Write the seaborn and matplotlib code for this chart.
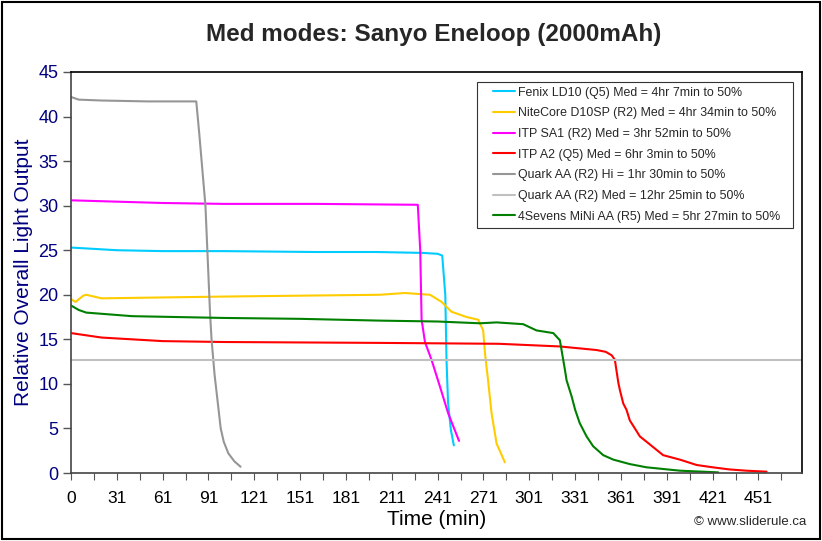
import matplotlib
matplotlib.use("Agg")
import matplotlib.pyplot as plt
import seaborn as sns
import pandas as pd
from matplotlib.lines import Line2D
from matplotlib.patches import Rectangle
from matplotlib import font_manager

# ---------------- data ----------------
fenix_x = [0, 10, 30, 60, 100, 160, 200, 230, 240, 243, 245, 245.8, 246.8, 248.7, 250.6]
fenix_y = [25.3, 25.2, 25.0, 24.9, 24.9, 24.8, 24.8, 24.7, 24.6, 24.4, 20.0, 12.7, 7.9, 4.8, 3.1]

nite_x = [0, 3, 8, 10, 20, 60, 100, 150, 202, 218.6, 235, 242.6, 249, 259, 266.6, 269.8,
          271, 273, 275.3, 278.6, 284]
nite_y = [19.5, 19.2, 19.9, 20.0, 19.6, 19.7, 19.8, 19.9, 20.0, 20.2, 20.0, 19.2, 18.1, 17.5,
          17.2, 16.0, 13.4, 10.4, 6.7, 3.3, 1.2]

sa1_x = [0, 20, 60, 100, 160, 227, 228.6, 229.5, 231.7, 236, 241.5, 246.9, 254]
sa1_y = [30.6, 30.5, 30.3, 30.2, 30.2, 30.1, 25.0, 17.2, 14.7, 12.7, 9.7, 6.7, 3.6]

a2_x = [0, 20, 60, 100, 202, 280, 320, 344, 350, 354, 356, 358.3, 359.3, 361.5, 363.6, 365.8,
        372.4, 376.8, 387.6, 398.6, 409.5, 420, 431, 442, 455.3]
a2_y = [15.7, 15.2, 14.8, 14.7, 14.6, 14.5, 14.2, 13.8, 13.6, 13.2, 12.7, 10.1, 9.3, 7.8, 7.1,
        5.9, 4.1, 3.5, 2.0, 1.5, 0.9, 0.64, 0.4, 0.26, 0.15]

quark_hi_x = [0, 5, 20, 50, 82, 84, 86, 88, 89, 90, 91, 92, 94, 96, 98, 100, 103, 107, 111]
quark_hi_y = [42.2, 41.9, 41.8, 41.7, 41.7, 38.0, 34.0, 30.0, 26.0, 22.0, 18.0, 15.0, 11.0,
              8.0, 5.0, 3.5, 2.2, 1.3, 0.7]

quark_med_x = [0, 100, 200, 300, 400, 478]
quark_med_y = [12.7, 12.7, 12.7, 12.7, 12.7, 12.7]

mini_x = [0, 5, 10, 40, 100, 150, 202, 240, 267.7, 278.6, 296, 304.7, 315.7, 320, 323.3,
          324.4, 327.7, 330, 333, 337.5, 341.8, 348.4, 355, 365.8, 376.7, 387.6, 398.6, 423.6]
mini_y = [18.8, 18.3, 18.0, 17.6, 17.4, 17.3, 17.1, 17.0, 16.8, 16.9, 16.7, 16.0, 15.7, 14.9,
          11.6, 10.4, 8.6, 7.1, 5.6, 4.1, 3.0, 2.0, 1.5, 1.0, 0.64, 0.45, 0.26, 0.07]

labels = [
    "Fenix LD10 (Q5) Med = 4hr 7min to 50%",
    "NiteCore D10SP (R2) Med = 4hr 34min to 50%",
    "ITP SA1 (R2) Med = 3hr 52min to 50%",
    "ITP A2 (Q5) Med = 6hr 3min to 50%",
    "Quark AA (R2) Hi = 1hr 30min to 50%",
    "Quark AA (R2) Med = 12hr 25min to 50%",
    "4Sevens MiNi AA (R5) Med = 5hr 27min to 50%",
]
colors = ["#00CCFF", "#FFCC00", "#FF00FF", "#FF0000", "#969696", "#C0C0C0", "#008000"]

xtick_labels = ["0", "31", "61", "91", "121", "151", "181", "211", "241", "271", "301",
                "331", "361", "391", "421", "451"]

# ---------------- build long-form table ----------------
series = [(fenix_x, fenix_y), (nite_x, nite_y), (sa1_x, sa1_y), (a2_x, a2_y),
          (quark_hi_x, quark_hi_y), (quark_med_x, quark_med_y), (mini_x, mini_y)]
frames = []
for lab, (xs, ys) in zip(labels, series):
    frames.append(pd.DataFrame({"Time": xs, "Output": ys, "Light": lab}))
df = pd.concat(frames, ignore_index=True)

# ---------------- plot ----------------
sns.set_theme(style="white")
plt.rcParams["font.family"] = ["Liberation Sans", "DejaVu Sans"]

installed = {f.name for f in font_manager.fontManager.ttflist}
narrow = "Liberation Sans Narrow" if "Liberation Sans Narrow" in installed else "Liberation Sans"

W, H = 822, 541
fig = plt.figure(figsize=(W / 100, H / 100), dpi=100)
L, R, T, B = 71, 802, 72, 473
ax = fig.add_axes([L / W, (H - B) / H, (R - L) / W, (B - T) / H])

sns.lineplot(data=df, x="Time", y="Output", hue="Light", hue_order=labels,
             palette=dict(zip(labels, colors)), estimator=None, sort=False,
             linewidth=1.5, legend=False, ax=ax)

ax.set_xlim(0, 478.5)
ax.set_ylim(0, 45)
ax.set_yticks(range(0, 46, 5))
ax.tick_params(axis="y", labelcolor="#000080", labelsize=13, length=6, width=1,
               direction="out", left=True, color="#555555", pad=3)
ticks = list(range(0, 466, 15))
ax.set_xticks(ticks)
ax.set_xticklabels([xtick_labels[i // 2] if i % 2 == 0 else "" for i in range(len(ticks))])
ax.tick_params(axis="x", labelcolor="black", labelsize=12.5, length=5, width=0.8,
               direction="out", bottom=True, pad=8, color="#555555")
for lab in ax.get_xticklabels():
    lab.set_family([narrow, "DejaVu Sans"])

ax.set_xlabel("Time (min)", fontsize=15, color="black", labelpad=3)
ax.set_ylabel("Relative Overall Light Output", fontsize=15, color="#000080", labelpad=4)

for sp in ax.spines.values():
    sp.set_visible(True)
    sp.set_color("black")
    sp.set_linewidth(1.2)
ax.spines["left"].set_color("#444444")
ax.spines["bottom"].set_color("#444444")

# legend (text and handles) with a separate frame
lx0, ly0, lx1, ly1 = 477, 82, 793, 228
handles = [Line2D([0], [0], color=c, lw=1.5) for c in colors]
leg = ax.legend(handles, labels, loc="upper left",
                bbox_to_anchor=((lx0 + 12 - L) / (R - L), 1 - (ly0 + 1 - T) / (B - T)),
                borderaxespad=0, fontsize=8.9, frameon=False, handlelength=1.8,
                handletextpad=0.25, labelspacing=0.70, borderpad=0.3)
ax.add_patch(Rectangle(((lx0 - L) / (R - L), 1 - (ly1 - T) / (B - T)),
                       (lx1 - lx0) / (R - L), (ly1 - ly0) / (B - T),
                       transform=ax.transAxes, facecolor="white", edgecolor="#333333",
                       linewidth=0.8, zorder=4))
leg.set_zorder(5)

fig.text(434 / W, 1 - 35 / H, "Med modes: Sanyo Eneloop (2000mAh)", ha="center", va="center",
         fontsize=17.5, fontweight="bold")
fig.text(806 / W, 1 - 522 / H, "© www.sliderule.ca", ha="right", va="center", fontsize=9.5)

fig.patches.append(Rectangle((2 / W, 2 / H), 818 / W, 537 / H, transform=fig.transFigure,
                             fill=False, edgecolor="black", linewidth=1.5))

fig.savefig("out.png", dpi=100)
